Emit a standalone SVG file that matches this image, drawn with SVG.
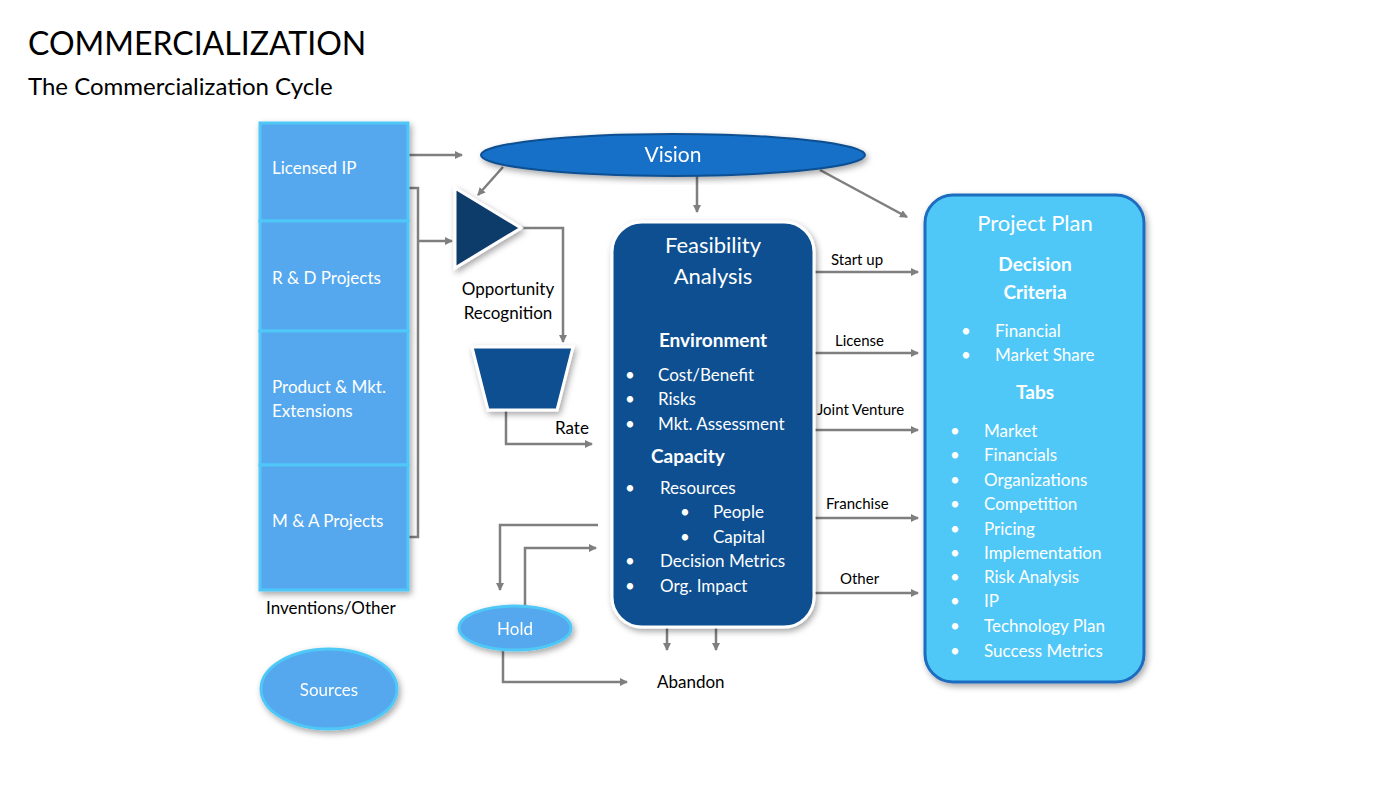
<svg xmlns="http://www.w3.org/2000/svg" width="1400" height="785" viewBox="0 0 1400 785">
<defs>
<marker id="ah" markerWidth="8" markerHeight="8" refX="7" refY="4" orient="auto" markerUnits="userSpaceOnUse"><path d="M0,0 L8,4 L0,8 Z" fill="#7f7f7f"/></marker>
<filter id="sh" x="-10%" y="-10%" width="130%" height="130%"><feDropShadow dx="2" dy="3" stdDeviation="3" flood-opacity="0.35"/></filter>
</defs>
<style>
text{font-family:Lato,"Open Sans",sans-serif}
.w{fill:#fff;font-size:17px}
.wb{fill:#fff;font-size:19px;font-weight:bold}
.k{fill:#000;font-size:17px}
.lbl{fill:#000;font-size:15px}
.c{stroke:#7f7f7f;stroke-width:2.5;fill:none}
.a{marker-end:url(#ah)}
.src{fill:#55a8ee;stroke:#4fc8f8;stroke-width:3}
</style>
<rect width="1400" height="785" fill="#fff"/>
<text x="28" y="55" font-size="32" fill="#000">COMMERCIALIZATION</text>
<text x="28" y="95" font-size="24" fill="#000">The Commercialization Cycle</text>

<g id="connectors">
<path class="c a" d="M408,155 H462"/>
<path class="c" d="M408,188 H418 V537 H408"/>
<path class="c a" d="M418,241 H452"/>
<path class="c a" d="M503,167 L478,195"/>
<path class="c a" d="M697,170 V212"/>
<path class="c a" d="M820,170 L907,217"/>
<path class="c a" d="M520,228 H563 V342"/>
<path class="c a" d="M506,410 V444 H592"/>
<path class="c a" d="M598,525 H500 V590"/>
<path class="c a" d="M525,606 V548 H596"/>
<path class="c a" d="M503,651 V682 H627"/>
<path class="c a" d="M667,627 V650"/>
<path class="c a" d="M716,627 V650"/>
<path class="c a" d="M814,272 H918"/>
<path class="c a" d="M814,353 H918"/>
<path class="c a" d="M814,430 H918"/>
<path class="c a" d="M814,518 H918"/>
<path class="c a" d="M814,593 H918"/>
<text class="lbl" x="831" y="265">Start up</text>
<text class="lbl" x="835" y="346">License</text>
<text class="lbl" x="817" y="415">Joint Venture</text>
<text class="lbl" x="826" y="509">Franchise</text>
<text class="lbl" x="840" y="584">Other</text>
<text class="k" x="555" y="434">Rate</text>
<text class="k" x="657" y="688" font-size="20">Abandon</text>
</g>

<g id="sources-column" filter="url(#sh)">
<rect class="src" x="260" y="123" width="148" height="98"/>
<rect class="src" x="260" y="221" width="148" height="110"/>
<rect class="src" x="260" y="331" width="148" height="134"/>
<rect class="src" x="260" y="465" width="148" height="125"/>
</g>
<g id="labels-sources">
<text class="w" x="272" y="174">Licensed IP</text>
<text class="w" x="272" y="284">R &amp; D Projects</text>
<text class="w" x="272" y="393">Product &amp; Mkt.</text>
<text class="w" x="272" y="417">Extensions</text>
<text class="w" x="272" y="527">M &amp; A Projects</text>
<text class="k" x="266" y="614" font-size="19">Inventions/Other</text>
</g>

<g id="sources" filter="url(#sh)">
<ellipse cx="329" cy="689" rx="68" ry="40" fill="#55a8ee" stroke="#4fc8f8" stroke-width="3"/>
<text class="w" x="329" y="696" text-anchor="middle" font-size="19">Sources</text>
</g>

<g id="vision" filter="url(#sh)">
<ellipse cx="673" cy="155" rx="192" ry="21" fill="#1470c8" stroke="#0e4f91" stroke-width="2"/>
<text x="673" y="162" text-anchor="middle" fill="#fff" font-size="21">Vision</text>
</g>

<g id="opportunity">
<polygon points="455,188 521,228 455,268" fill="#0d3a6a" stroke="#fff" stroke-width="3" filter="url(#sh)"/>
<text class="k" x="508" y="295" text-anchor="middle">Opportunity</text>
<text class="k" x="508" y="319" text-anchor="middle">Recognition</text>
</g>

<g id="rate-filter">
<polygon points="472,347 573,347 557,410 488,410" fill="#0f4f90" stroke="#fff" stroke-width="3" filter="url(#sh)"/>
</g>

<g id="feasibility">
<rect x="612" y="222" width="202" height="405" rx="30" fill="#0e4f91" stroke="#fff" stroke-width="3" filter="url(#sh)"/>
<text x="713" y="253" text-anchor="middle" fill="#fff" font-size="22">Feasibility</text>
<text x="713" y="284" text-anchor="middle" fill="#fff" font-size="22">Analysis</text>
<text class="wb" x="713" y="347" text-anchor="middle">Environment</text>
<text class="w" x="625" y="381">•</text><text class="w" x="658" y="381">Cost/Benefit</text>
<text class="w" x="625" y="405">•</text><text class="w" x="658" y="405">Risks</text>
<text class="w" x="625" y="430">•</text><text class="w" x="658" y="430">Mkt. Assessment</text>
<text class="wb" x="651" y="463">Capacity</text>
<text class="w" x="625" y="494">•</text><text class="w" x="660" y="494">Resources</text>
<text class="w" x="680" y="518">•</text><text class="w" x="713" y="518">People</text>
<text class="w" x="680" y="543">•</text><text class="w" x="713" y="543">Capital</text>
<text class="w" x="625" y="567">•</text><text class="w" x="660" y="567">Decision Metrics</text>
<text class="w" x="625" y="592">•</text><text class="w" x="660" y="592">Org. Impact</text>
</g>

<g id="project-plan">
<rect x="925" y="195" width="219" height="487" rx="28" fill="#4fc8f8" stroke="#1e6cbf" stroke-width="3" filter="url(#sh)"/>
<text x="1035" y="231" text-anchor="middle" fill="#fff" font-size="22">Project Plan</text>
<text class="wb" x="1035" y="271" text-anchor="middle">Decision</text>
<text class="wb" x="1035" y="299" text-anchor="middle">Criteria</text>
<text class="w" x="961" y="337">•</text><text class="w" x="995" y="337">Financial</text>
<text class="w" x="961" y="361">•</text><text class="w" x="995" y="361">Market Share</text>
<text class="wb" x="1035" y="399" text-anchor="middle">Tabs</text>
<text class="w" x="950" y="437">•</text><text class="w" x="984" y="437">Market</text>
<text class="w" x="950" y="461">•</text><text class="w" x="984" y="461">Financials</text>
<text class="w" x="950" y="486">•</text><text class="w" x="984" y="486">Organizations</text>
<text class="w" x="950" y="510">•</text><text class="w" x="984" y="510">Competition</text>
<text class="w" x="950" y="535">•</text><text class="w" x="984" y="535">Pricing</text>
<text class="w" x="950" y="559">•</text><text class="w" x="984" y="559">Implementation</text>
<text class="w" x="950" y="583">•</text><text class="w" x="984" y="583">Risk Analysis</text>
<text class="w" x="950" y="607">•</text><text class="w" x="984" y="607">IP</text>
<text class="w" x="950" y="632">•</text><text class="w" x="984" y="632">Technology Plan</text>
<text class="w" x="950" y="657">•</text><text class="w" x="984" y="657">Success Metrics</text>
</g>

<g id="hold" filter="url(#sh)">
<ellipse cx="515" cy="628" rx="56" ry="22" fill="#55a8ee" stroke="#4fc8f8" stroke-width="3"/>
<text class="w" x="515" y="635" text-anchor="middle" font-size="19">Hold</text>
</g>
</svg>
